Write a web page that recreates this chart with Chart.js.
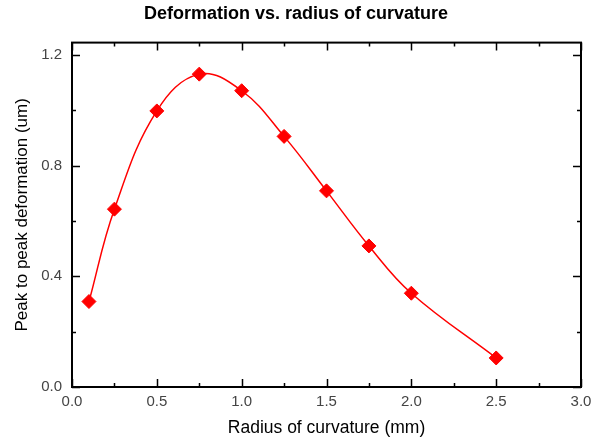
<!DOCTYPE html>
<html>
<head>
<meta charset="utf-8">
<script src="https://cdn.jsdelivr.net/npm/chart.js@4"></script>
<style>
  html, body { margin: 0; padding: 0; background: #fff; }
  #wrap { width: 592px; height: 441px; }
</style>
</head>
<body>
<div id="wrap"><canvas id="deformChart"></canvas></div>
<script>
const radius = [0.1, 0.25, 0.5, 0.75, 1.0, 1.25, 1.5, 1.75, 2.0, 2.5];
const deformation = [0.309, 0.643, 0.998, 1.131, 1.071, 0.906, 0.709, 0.510, 0.339, 0.105];
const xTicks = [0.0, 0.5, 1.0, 1.5, 2.0, 2.5, 3.0];
const xMinor = [0.25, 0.75, 1.25, 1.75, 2.25, 2.75];
const yTicks = [0.0, 0.4, 0.8, 1.2];
const yMinor = [0.2, 0.6, 1.0];

const FONT = 'Liberation Sans, Arial, sans-serif';

// frame + inward ticks on all four sides
const frameTicks = {
  id: 'frameTicks',
  afterDatasetsDraw(chart) {
    const { ctx, chartArea: a, scales: { x, y } } = chart;
    ctx.save();
    ctx.strokeStyle = '#000';
    ctx.lineWidth = 2;
    ctx.strokeRect(a.left, a.top, a.right - a.left, a.bottom - a.top);
    ctx.lineWidth = 1.5;
    const tick = (vals, len, isX) => {
      vals.forEach(v => {
        ctx.beginPath();
        if (isX) {
          const px = Math.round(x.getPixelForValue(v)) + 0.5;
          ctx.moveTo(px, a.bottom); ctx.lineTo(px, a.bottom - len);
          ctx.moveTo(px, a.top); ctx.lineTo(px, a.top + len);
        } else {
          const py = Math.round(y.getPixelForValue(v)) + 0.5;
          ctx.moveTo(a.left, py); ctx.lineTo(a.left + len, py);
          ctx.moveTo(a.right, py); ctx.lineTo(a.right - len, py);
        }
        ctx.stroke();
      });
    };
    tick(xTicks, 8, true);
    tick(xMinor, 4, true);
    tick(yTicks, 8, false);
    tick(yMinor, 4, false);
    ctx.restore();
  }
};

const ctx = document.getElementById('deformChart').getContext('2d');
new Chart(ctx, {
  type: 'line',
  data: {
    datasets: [{
      label: 'Deformation',
      data: radius.map((r, i) => ({ x: r, y: deformation[i] })),
      borderColor: '#ff0000',
      backgroundColor: '#ff0000',
      borderWidth: 1.5,
      tension: 0.4,
      pointStyle: 'rectRot',
      pointRadius: 7,
      pointBorderWidth: 1,
      pointBackgroundColor: '#ff0000',
      pointBorderColor: '#ff0000',
      fill: false
    }]
  },
  options: {
    responsive: true,
    maintainAspectRatio: false,
    animation: false,
    layout: { padding: { left: 0, right: 0, top: 0, bottom: 0 } },
    plugins: {
      legend: { display: false },
      tooltip: { enabled: false },
      title: {
        display: true,
        text: 'Deformation vs. radius of curvature',
        color: '#000',
        font: { family: FONT, size: 18, weight: 'bold' },
        padding: { top: 3, bottom: 18 }
      }
    },
    scales: {
      x: {
        type: 'linear',
        min: 0,
        max: 3.0,
        grid: { display: false, drawTicks: false },
        border: { display: false },
        afterBuildTicks: s => { s.ticks = xTicks.map(v => ({ value: v })); },
        afterFit: s => { s.height = 54; s.paddingRight = 11; },
        ticks: {
          padding: 6,
          color: '#444',
          font: { family: FONT, size: 15 },
          callback: v => Number(v).toFixed(1),
          maxRotation: 0
        },
        title: {
          display: true,
          text: 'Radius of curvature (mm)',
          color: '#000',
          font: { family: FONT, size: 17.5 },
          padding: { top: 0, bottom: 2.5 }
        }
      },
      y: {
        type: 'linear',
        min: 0,
        max: 1.245,
        grid: { display: false, drawTicks: false },
        border: { display: false },
        afterBuildTicks: s => { s.ticks = yTicks.map(v => ({ value: v })); },
        afterFit: s => { s.width = 72; },
        ticks: {
          padding: 10,
          color: '#444',
          font: { family: FONT, size: 15 },
          callback: v => Number(v).toFixed(1)
        },
        title: {
          display: true,
          text: 'Peak to peak deformation (um)',
          color: '#000',
          font: { family: FONT, size: 17 },
          padding: { top: 12, bottom: 0 }
        }
      }
    }
  },
  plugins: [frameTicks]
});
</script>
</body>
</html>
